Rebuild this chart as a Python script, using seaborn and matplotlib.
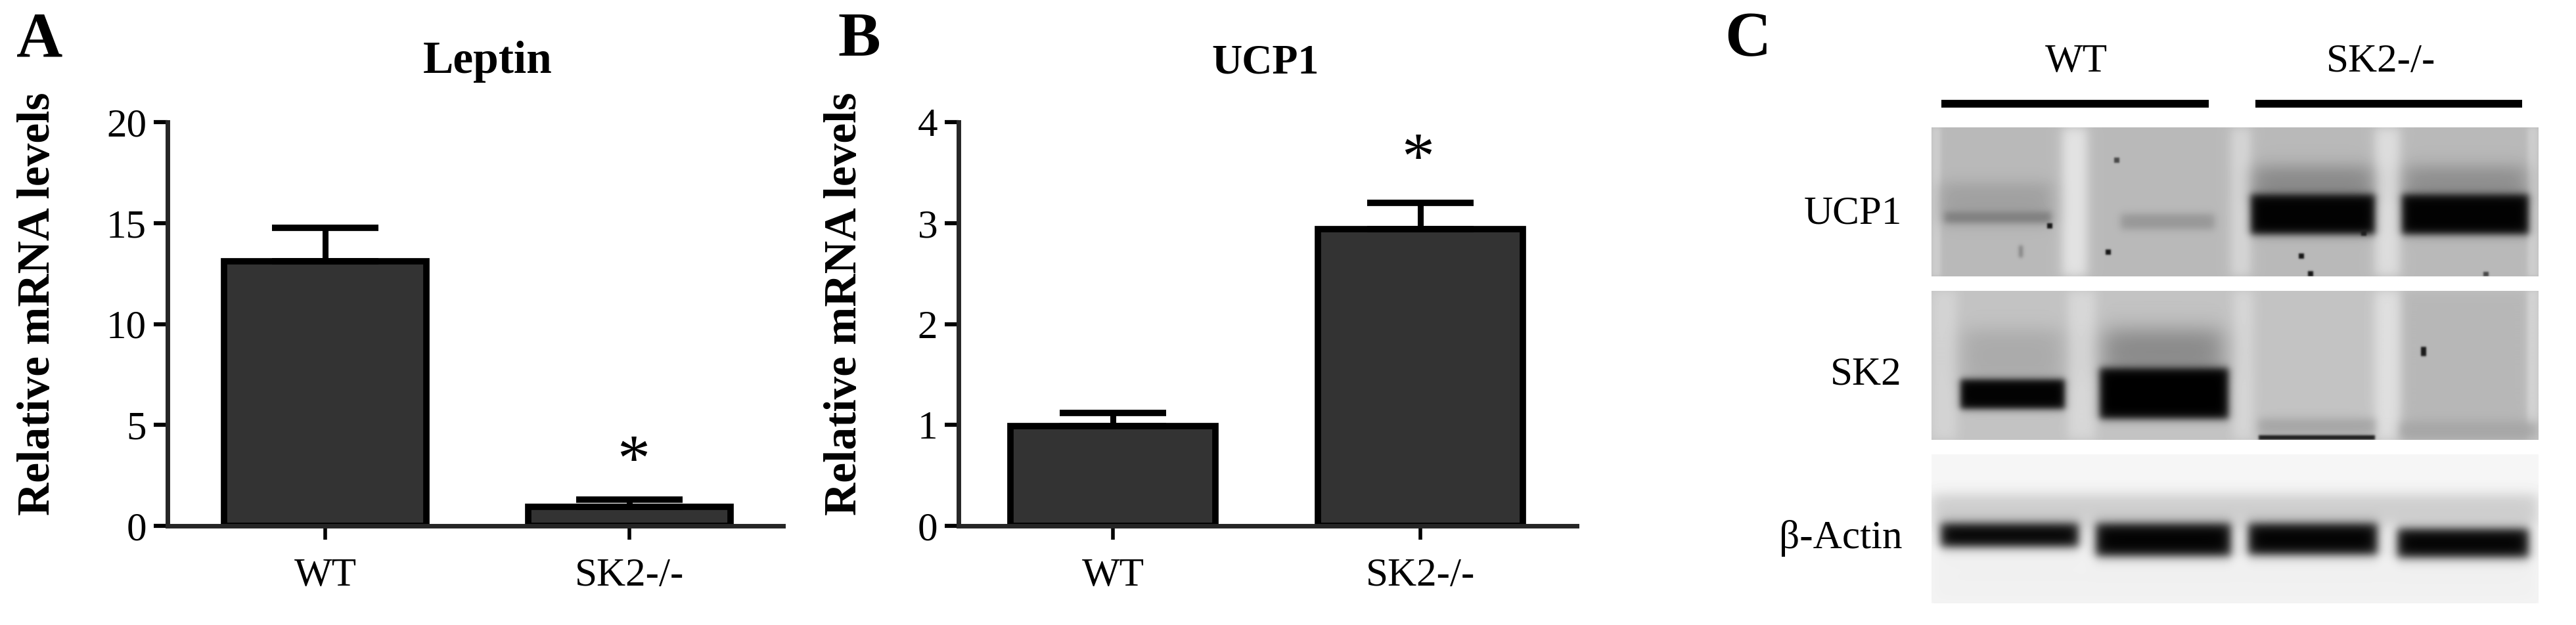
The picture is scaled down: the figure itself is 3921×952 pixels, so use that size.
import matplotlib
matplotlib.use('Agg')
import matplotlib.pyplot as plt
import numpy as np
import seaborn as sns

W, H = 3921, 952

# Bar panels
groups = ['WT', 'SK2-/-']
leptin_means = [13.1, 0.95]
leptin_tops = [14.76, 1.3]
ucp1_means = [0.99, 2.94]
ucp1_tops = [1.12, 3.2]
leptin_ticks = [0, 5, 10, 15, 20]
ucp1_ticks = [0, 1, 2, 3, 4]

# Blots: each index is one region on the membrane (lane gaps, smears, bands, specks)
ucp1_left = [0, 199, 456, 675, 907, 14, 490, 720, 20, 288, 486, 716, 176, 265, 278, 559, 573, 654, 133, 840]
ucp1_right = [14, 237, 486, 713, 924, 182, 671, 905, 182, 431, 675, 909, 184, 273, 286, 567, 581, 662, 139, 848]
ucp1_top = [0, 0, 0, 0, 0, 85, 60, 60, 129, 132, 102, 102, 146, 186, 46, 192, 219, 157, 180, 220]
ucp1_bottom = [227, 227, 227, 227, 227, 146, 110, 110, 145, 155, 163, 163, 154, 194, 54, 200, 227, 165, 198, 227]
ucp1_grey = [205, 228, 215, 222, 205, 160, 135, 140, 125, 150, 2, 2, 20, 20, 70, 20, 20, 30, 130, 70]
ucp1_soft = [4, 10, 10, 10, 4, 14, 16, 16, 6, 7, 7, 7, 1.5, 1.5, 1.5, 1.5, 1.5, 1.5, 3, 1.5]

sk2_left = [0, 208, 460, 713, 675, 907, 48, 262, 44, 256, 498, 713, 498, 745]
sk2_right = [39, 250, 490, 907, 713, 924, 199, 443, 203, 452, 675, 924, 675, 753]
sk2_top = [0, 0, 0, 0, 0, 0, 60, 60, 135, 118, 195, 200, 220, 86]
sk2_bottom = [227, 227, 227, 227, 227, 227, 140, 125, 180, 195, 219, 227, 227, 100]
sk2_grey = [212, 216, 215, 183, 224, 210, 170, 135, 2, 0, 165, 165, 25, 25]
sk2_soft = [10, 10, 10, 10, 10, 4, 18, 20, 6, 7, 8, 10, 2, 1.5]

actin_left = [0, 0, 14, 250, 482, 709]
actin_right = [924, 924, 224, 456, 679, 909]
actin_top = [61, 150, 105, 105, 105, 113]
actin_bottom = [109, 227, 141, 155, 153, 157]
actin_grey = [205, 240, 2, 2, 2, 2]
actin_soft = [12, 14, 9, 9, 9, 9]

blot_names = ['UCP1', 'SK2', 'β-Actin']
blot_background = [185, 195, 246]

sns.set_theme(style='ticks')
plt.rcParams['font.family'] = ['Liberation Serif', 'DejaVu Serif']

fig = plt.figure(figsize=(W / 100, H / 100), dpi=100, facecolor='white')


def px_axes(left, top, right, bottom):
    return fig.add_axes([left / W, 1 - bottom / H, (right - left) / W, (bottom - top) / H])


def px_text(x, y, s, **kw):
    fig.text(x / W, 1 - y / H, s, **kw)


def bar_panel(ax, means, tops, ticks, x0, spacing):
    sns.barplot(x=groups, y=means, color='#333333', saturation=1, width=0.665,
                edgecolor='black', linewidth=7, ax=ax)
    ax.errorbar([0, 1], means, yerr=[[0, 0], np.array(tops) - np.array(means)], fmt='none',
                ecolor='black', elinewidth=6.5, capsize=58, capthick=7, zorder=1)
    left, right = ax.get_position().x0 * W, ax.get_position().x1 * W
    ax.set_xlim((left - x0) / spacing, (right - x0) / spacing)
    ax.set_ylim(ticks[0], ticks[-1])
    ax.set_yticks(ticks)
    sns.despine(ax=ax)
    for side in ['left', 'bottom']:
        ax.spines[side].set_linewidth(5)
    ax.tick_params(axis='y', length=15, width=4.5, labelsize=44, pad=8, color='black', labelcolor='black')
    ax.tick_params(axis='x', length=15, width=4, labelsize=44, pad=20, color='black', labelcolor='black')


def membrane(background, left, right, top, bottom, grey, soft):
    # paint the regions in order on a grey sheet, with blurred edges
    xx, yy = np.meshgrid(np.arange(924) + 0.5, np.arange(227) + 0.5)
    img = np.full(xx.shape, float(background))
    for x0, x1, y0, y1, g, s in zip(left, right, top, bottom, grey, soft):
        mask = (np.tanh((xx - x0) / s) - np.tanh((xx - x1) / s)) / 2
        mask = mask * (np.tanh((yy - y0) / s) - np.tanh((yy - y1) / s)) / 2
        img = img * (1 - mask) + g * mask
    return img


ax_a = px_axes(255, 186, 1192, 801)
bar_panel(ax_a, leptin_means, leptin_tops, leptin_ticks, 495, 463)
ax_b = px_axes(1459, 186, 2400, 801)
bar_panel(ax_b, ucp1_means, ucp1_tops, ucp1_ticks, 1694, 468)

label_kw = dict(fontweight='bold', color='black')
px_text(25, 85, 'A', fontsize=70, **label_kw)
px_text(1275, 85, 'B', fontsize=70, **label_kw)
px_text(2625, 85, 'C', fontsize=70, **label_kw)
px_text(742, 111, 'Leptin', fontsize=50, ha='center', **label_kw)
px_text(1926, 111, 'UCP1', fontsize=46, ha='center', **label_kw)
for x in [58, 1286]:
    px_text(x, 463, 'Relative mRNA levels', fontsize=50, rotation=90, ha='center', va='center', **label_kw)
px_text(964, 730, '*', fontsize=72, ha='center', color='black')
px_text(2158, 270, '*', fontsize=72, ha='center', color='black')

# Blot panel
blots = [
    (ucp1_left, ucp1_right, ucp1_top, ucp1_bottom, ucp1_grey, ucp1_soft),
    (sk2_left, sk2_right, sk2_top, sk2_bottom, sk2_grey, sk2_soft),
    (actin_left, actin_right, actin_top, actin_bottom, actin_grey, actin_soft),
]
for blot, bg, top, name, label_y in zip(blots, blot_background, [194, 443, 692], blot_names, [340, 586, 835]):
    ax = px_axes(2940, top, 3864, top + 227)
    ax.imshow(membrane(bg, *blot), cmap='gray', vmin=0, vmax=255, aspect='auto')
    ax.axis('off')
    px_text(2895, label_y, name, fontsize=44, ha='right', color='black')

ax_lines = px_axes(2940, 140, 3864, 180)
ax_lines.axis('off')
ax_lines.set_xlim(2940, 3864)
ax_lines.set_ylim(180, 140)
ax_lines.hlines([158, 158], [2955, 3433], [3362, 3839], color='black', linewidth=8.5)
px_text(3160, 109, 'WT', fontsize=44, ha='center', color='black')
px_text(3624, 109, 'SK2-/-', fontsize=44, ha='center', color='black')

fig.savefig('out.png', dpi=100, facecolor='white')
